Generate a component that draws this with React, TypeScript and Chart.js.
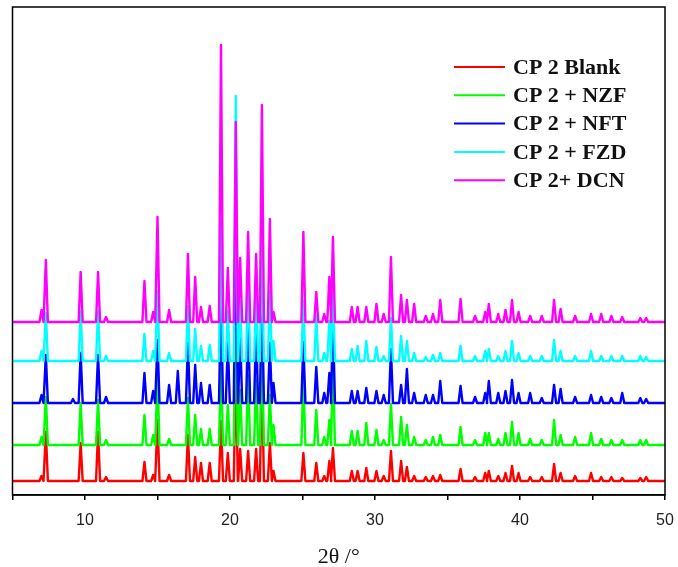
import React, { useEffect, useRef } from "react";
import { Chart, registerables } from "chart.js";

Chart.register(...registerables);

const seriesLabels = ["CP 2 Blank", "CP 2 + NZF", "CP 2 + NFT", "CP 2 + FZD", "CP 2+ DCN"];
const seriesColors = ["#ff0000", "#00ff00", "#0000ff", "#00ffff", "#ff00ff"];
const seriesOffsets = [14, 50, 92, 134, 173];

const peakTheta = [
  7.0, 7.3, 9.17, 9.7, 10.9, 11.45, 14.1, 14.7, 15.0, 15.8,
  16.4, 17.1, 17.6, 18.0, 18.6, 19.38, 19.85, 20.4, 20.7, 21.25,
  21.8, 22.2, 22.75, 23.0, 25.06, 25.95, 26.5, 26.85, 27.1, 28.4,
  28.8, 29.4, 30.1, 30.6, 31.1, 31.8, 32.2, 32.7, 33.5, 34.0,
  34.5, 35.9, 36.9, 37.6, 37.85, 38.5, 39.0, 39.45, 39.9, 40.7,
  41.5, 42.35, 42.8, 43.8, 44.9, 45.6, 46.3, 47.05, 48.3, 48.7,
];

const blankHeights = [
  5, 49, 0, 38, 49, 4, 19, 6, 61, 6,
  0, 46, 24, 18, 18, 60, 28, 116, 32, 30,
  32, 108, 38, 10, 28, 18, 5, 20, 33, 10,
  10, 13, 10, 5, 30, 20, 14, 5, 4, 5,
  6, 12, 4, 8, 10, 5, 8, 15, 8, 4,
  4, 17, 8, 5, 8, 4, 4, 3, 3, 4,
];
const nzfHeights = [
  8, 48, 0, 42, 45, 5, 30, 10, 68, 6,
  0, 47, 30, 16, 16, 82, 40, 150, 55, 70,
  65, 102, 50, 20, 65, 35, 8, 25, 82, 14,
  14, 22, 15, 5, 41, 28, 20, 8, 5, 8,
  10, 18, 5, 12, 12, 6, 12, 23, 12, 6,
  5, 25, 10, 8, 12, 6, 5, 5, 5, 5,
];
const nftHeights = [
  8, 48, 4, 50, 48, 6, 30, 12, 63, 18,
  32, 60, 38, 20, 18, 110, 60, 191, 70, 85,
  75, 113, 60, 20, 61, 36, 10, 30, 83, 12,
  12, 15, 12, 8, 54, 18, 34, 10, 8, 8,
  22, 17, 6, 10, 22, 10, 12, 23, 10, 10,
  5, 18, 14, 6, 8, 6, 5, 10, 5, 4,
];
const fzdHeights = [
  10, 48, 0, 50, 50, 5, 27, 10, 70, 8,
  0, 55, 32, 15, 16, 140, 50, 265, 60, 85,
  68, 120, 70, 20, 60, 45, 8, 40, 75, 12,
  15, 20, 14, 5, 43, 25, 20, 8, 4, 6,
  8, 15, 5, 10, 12, 5, 10, 20, 8, 5,
  5, 21, 10, 5, 10, 5, 5, 5, 5, 4,
];
const dcnHeights = [
  12, 62, 0, 50, 50, 5, 41, 10, 105, 12,
  0, 68, 45, 15, 16, 277, 54, 200, 64, 90,
  68, 217, 103, 10, 90, 30, 8, 45, 85, 15,
  15, 15, 18, 8, 65, 27, 22, 18, 6, 8,
  22, 23, 6, 10, 18, 8, 12, 22, 10, 6,
  6, 22, 13, 6, 8, 8, 6, 5, 4, 4,
];

const allHeights = [blankHeights, nzfHeights, nftHeights, fzdHeights, dcnHeights];

const xMin = 5;
const xMax = 50;
const xTickStep = 5;
const halfWidth = 0.14;

function buildPoints(heights: number[], base: number) {
  const pts: { x: number; y: number }[] = [{ x: xMin, y: base }];
  peakTheta.forEach((t, i) => {
    const h = heights[i];
    if (!h) return;
    pts.push({ x: t - halfWidth, y: base });
    pts.push({ x: t, y: base + h });
    pts.push({ x: t + halfWidth, y: base });
  });
  pts.push({ x: xMax, y: base });
  return pts;
}

const framePlugin = {
  id: "frameAndLegend",
  afterDraw(chart: any) {
    const { ctx, chartArea } = chart;
    ctx.save();
    ctx.strokeStyle = "#000";
    ctx.lineWidth = 1.5;
    ctx.strokeRect(chartArea.left, chartArea.top, chartArea.right - chartArea.left, chartArea.bottom - chartArea.top);
    const x0 = 454;
    const x1 = 505;
    const tx = 513;
    const y0 = 67;
    const dy = 28.3;
    ctx.font = "bold 22px 'Times New Roman', 'Liberation Serif', serif";
    ctx.textBaseline = "middle";
    ctx.textAlign = "left";
    seriesLabels.forEach((lab, i) => {
      const y = y0 + i * dy;
      ctx.strokeStyle = seriesColors[i];
      ctx.lineWidth = 2;
      ctx.beginPath();
      ctx.moveTo(x0, y);
      ctx.lineTo(x1, y);
      ctx.stroke();
      ctx.fillStyle = "#111";
      ctx.fillText(lab, tx, y + 1);
    });
    ctx.restore();
  },
};

export default function App() {
  const ref = useRef<HTMLCanvasElement | null>(null);
  useEffect(() => {
    if (!ref.current) return;
    const datasets = seriesLabels.map((label, i) => ({
      label,
      data: buildPoints(allHeights[i], seriesOffsets[i]),
      borderColor: seriesColors[i],
      backgroundColor: seriesColors[i],
      borderWidth: 2.4,
      pointRadius: 0,
      tension: 0,
      borderJoinStyle: "round" as const,
      order: seriesLabels.length - 1 - i,
    }));
    const chart = new Chart(ref.current, {
      type: "line",
      data: { datasets },
      options: {
        animation: false,
        responsive: false,
        maintainAspectRatio: false,
        layout: { padding: { left: 12.5, right: 13, top: 7, bottom: 0 } },
        plugins: { legend: { display: false }, tooltip: { enabled: false } },
        scales: {
          x: {
            type: "linear",
            min: xMin,
            max: xMax,
            afterFit: (s: any) => {
              s.paddingLeft = 0;
              s.paddingRight = 0;
            },
            ticks: {
              stepSize: xTickStep,
              autoSkip: false,
              maxRotation: 0,
              padding: 11,
              color: "#222",
              font: { family: "Arial, 'Liberation Sans', sans-serif", size: 16 },
              callback: (v: any) => (Number(v) % 10 === 0 ? String(v) : ""),
            },
            grid: { drawOnChartArea: false, drawTicks: true, tickLength: 5, color: "#000", lineWidth: 1.5 },
            border: { display: true, color: "#000", width: 1.5 },
            title: {
              display: true,
              text: "2θ /°",
              color: "#111",
              font: { family: "'Times New Roman', 'Liberation Serif', serif", size: 22 },
              padding: { top: 2.6, bottom: -3.2 },
            },
          },
          y: { display: false, min: 0, max: 488 },
        },
      },
      plugins: [framePlugin],
    });
    return () => chart.destroy();
  }, []);
  return (
    <div style={{ position: "fixed", left: 0, top: 0, width: 678, height: 567, background: "#fff" }}>
      <canvas ref={ref} width={678} height={567} style={{ width: 678, height: 567 }} />
    </div>
  );
}
